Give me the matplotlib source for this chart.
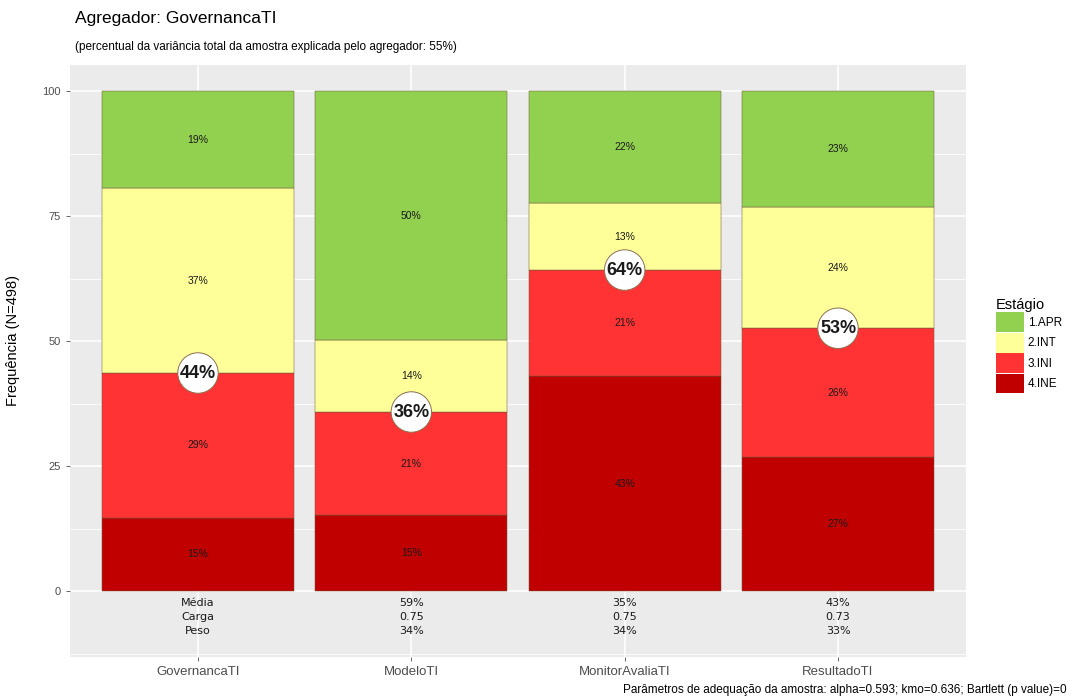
import matplotlib
matplotlib.use('Agg')
import matplotlib.pyplot as plt
from matplotlib.patches import Patch

plt.rcParams['font.family'] = ['Liberation Sans', 'DejaVu Sans']

# dados
categorias = ['GovernancaTI', 'ModeloTI', 'MonitorAvaliaTI', 'ResultadoTI']
estagios = ['1.APR', '2.INT', '3.INI', '4.INE']
ine = [14.7, 15.2, 42.8, 26.8]
ini = [28.9, 20.6, 21.2, 25.8]
inter = [37.0, 14.4, 13.3, 24.2]
apr = [19.4, 49.8, 22.4, 23.3]
linhas_tabela = ['Média', 'Carga', 'Peso']
media = ['59%', '35%', '43%']
carga = ['0.75', '0.75', '0.73']
peso = ['34%', '34%', '33%']
cores = {'1.APR': '#92D050', '2.INT': '#FFFF99', '3.INI': '#FF3333', '4.INE': '#C00000'}

fig = plt.figure(figsize=(10.78, 7.0), dpi=100)
ax = fig.add_axes([70 / 1078, 1 - 657 / 700, 896 / 1078, 592 / 700])
ax.set_facecolor('#EBEBEB')
for s in ax.spines.values():
    s.set_visible(False)

x = list(range(1, len(categorias) + 1))
ax.set_xlim(0.4, 4.6)
ax.set_ylim(-13.2, 105.2)

# grid estilo ggplot
for yv in [-12.5, 12.5, 37.5, 62.5, 87.5]:
    ax.axhline(yv, color='white', lw=0.6, zorder=0)
for yv in [0, 25, 50, 75, 100]:
    ax.axhline(yv, color='white', lw=1.2, zorder=0)
for xv in x:
    ax.axvline(xv, color='white', lw=1.2, zorder=0)

# empilhado e normalizado para 100 (como position="fill")
totais = [a + b + c + d for a, b, c, d in zip(ine, ini, inter, apr)]
series = [('4.INE', ine), ('3.INI', ini), ('2.INT', inter), ('1.APR', apr)]
base = [0.0] * len(categorias)
for nome, vals in series:
    alt = [v * 100 / t for v, t in zip(vals, totais)]
    ax.bar(x, alt, width=0.9, bottom=base, color=cores[nome],
           edgecolor='#6b5a3a', linewidth=0.35, zorder=2)
    for i, v in enumerate(vals):
        ax.text(x[i], base[i] + alt[i] / 2, f'{v:.0f}%', ha='center', va='center',
                fontsize=7.5, color='#1a1a1a', zorder=3)
    base = [b + h for b, h in zip(base, alt)]

# circulo com % de INE + INI
for i in range(len(categorias)):
    y = ine[i] + ini[i]
    ax.text(x[i], y * 100 / totais[i], f'{y:.0f}%', ha='center', va='center',
            fontsize=13, fontweight='bold', color='#1a1a1a', zorder=5,
            bbox=dict(boxstyle='circle,pad=0.12', fc='white', ec='#8a7050', lw=0.7))

# tabela abaixo das barras
ytab = [-2.4, -5.2, -8.0]
narrow = ['Liberation Sans Narrow', 'DejaVu Sans']
for j, lab in enumerate(linhas_tabela):
    ax.text(x[0], ytab[j], lab, ha='center', va='center', fontsize=8,
            family=narrow, color='#1a1a1a')
for i in range(1, len(categorias)):
    for j, col in enumerate([media, carga, peso]):
        ax.text(x[i], ytab[j], col[i - 1], ha='center', va='center', fontsize=8,
                family=narrow, color='#1a1a1a')

ax.set_xticks(x)
ax.set_xticklabels(categorias, fontsize=9.5, color='#4D4D4D')
ax.set_yticks([0, 25, 50, 75, 100])
ax.set_yticklabels(['0', '25', '50', '75', '100'], fontsize=8, color='#4D4D4D')
ax.tick_params(axis='both', color='#4D4D4D', length=3, width=0.6)
ax.set_ylabel('Frequência (N=498)', fontsize=10.5, color='black')
ax.yaxis.set_label_coords(-50 / 896, (657 - 341) / 592)

fig.text(75 / 1078, 1 - 18 / 700, 'Agregador: GovernancaTI', fontsize=12.5,
         va='center', ha='left')
fig.text(75 / 1078, 1 - 47 / 700,
         '(percentual da variância total da amostra explicada pelo agregador: 55%)',
         fontsize=8.5, va='center', ha='left')
fig.text(1067 / 1078, 1 - 690 / 700,
         'Parâmetros de adequação da amostra: alpha=0.593; kmo=0.636; Bartlett (p value)=0',
         fontsize=8.5, va='center', ha='right')

handles = [Patch(facecolor=cores[e], edgecolor='none') for e in estagios]
leg = fig.legend(handles, estagios, title='Estágio', loc='upper left',
                 bbox_to_anchor=(990 / 1078, 1 - 292 / 700), frameon=False,
                 fontsize=8.5, title_fontsize=10.5, handlelength=2.4,
                 handleheight=2.2, handletextpad=0.3, labelspacing=0.05,
                 borderpad=0, alignment='left')

fig.savefig('out.png', dpi=100)
